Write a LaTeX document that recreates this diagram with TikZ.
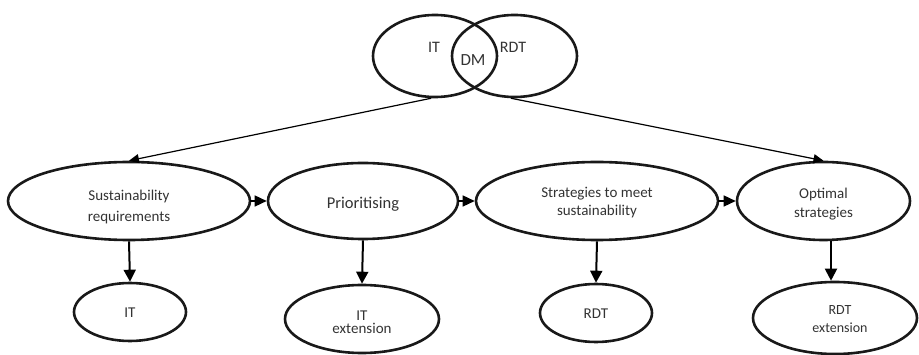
\documentclass[tikz,border=0pt]{standalone}
\usepackage{fontspec}
\setmainfont{Carlito}
\usetikzlibrary{shapes.geometric,arrows.meta}
\tikzset{
  ell/.style={draw=black!90,line width=2.6pt,ellipse,inner sep=0pt},
  lbl/.style={inner sep=0pt,text=black!80,align=center,font=\fontsize{15}{19}\selectfont},
  harrow/.style={-{Triangle[length=12pt,width=11pt]},line width=1.5pt,shorten <=-1pt},
  varrow/.style={-{Triangle[length=12pt,width=12pt]},line width=2pt},
  darrow/.style={-{Triangle[length=10pt,width=9pt]},line width=1.2pt}
}
\begin{document}
\begin{tikzpicture}[x=1pt,y=-1pt]
\useasboundingbox (0,0) rectangle (919,355);
% Venn
\node[ell,minimum width=124pt,minimum height=82pt] (vennL) at (435,56) {};
\node[ell,minimum width=125pt,minimum height=82pt] (vennR) at (514.5,56) {};
\node[lbl,font=\fontsize{16}{18}\selectfont] (vIT) at (434,47) {IT};
\node[lbl,font=\fontsize{16}{18}\selectfont] (vRDT) at (513,47) {RDT};
\node[lbl,font=\fontsize{17}{18}\selectfont] (vDM) at (473,60) {DM};
% middle row
\node[ell,minimum width=242pt,minimum height=78pt] (e1) at (129,201) {};
\node[ell,minimum width=190pt,minimum height=76pt] (e2) at (363,201) {};
\node[ell,minimum width=242pt,minimum height=78pt] (e3) at (597,201) {};
\node[ell,minimum width=173pt,minimum height=78pt] (e4) at (823.5,201) {};
\node[lbl,font=\fontsize{15}{21}\selectfont] (t1) at (129,207) {Sustainability\\requirements};
\node[lbl,font=\fontsize{16.5}{20}\selectfont] (t2) at (363,204) {Prioritising};
\node[lbl,font=\fontsize{15}{18}\selectfont] (t3) at (597,203) {Strategies to meet\\sustainability};
\node[lbl,font=\fontsize{15}{18.5}\selectfont] (t4) at (823.5,204) {Optimal\\strategies};
% bottom row
\node[ell,minimum width=112pt,minimum height=58pt] (b1) at (130,312) {};
\node[ell,minimum width=154pt,minimum height=68pt] (b2) at (362,319) {};
\node[ell,minimum width=112pt,minimum height=58pt] (b3) at (596,313) {};
\node[ell,minimum width=164pt,minimum height=72pt] (b4) at (835,318) {};
\node[lbl] (u1) at (130,313) {IT};
\node[lbl,font=\fontsize{15}{13.5}\selectfont] (u2) at (362,322) {IT\\extension};
\node[lbl] (u3) at (596,314) {RDT};
\node[lbl,font=\fontsize{14}{17.5}\selectfont] (u4) at (840,319) {RDT\\extension};
% connectors
\draw[darrow] (vennL.-95) -- (e1.north);
\draw[darrow] (vennR.-95) -- (e4.north);
\draw[harrow] (e1.east) -- (e2.west);
\draw[harrow] (e2.east) -- (e3.west);
\draw[harrow] (e3.east) -- (e4.west);
\draw[varrow] (e1.south) -- (b1.north);
\draw[varrow] (e2.south) -- (b2.north);
\draw[varrow] (e3.south) -- (b3.north);
\draw[varrow] (e4.south -| 831,0) -- (b4.north -| 831,0);
\end{tikzpicture}
\end{document}
